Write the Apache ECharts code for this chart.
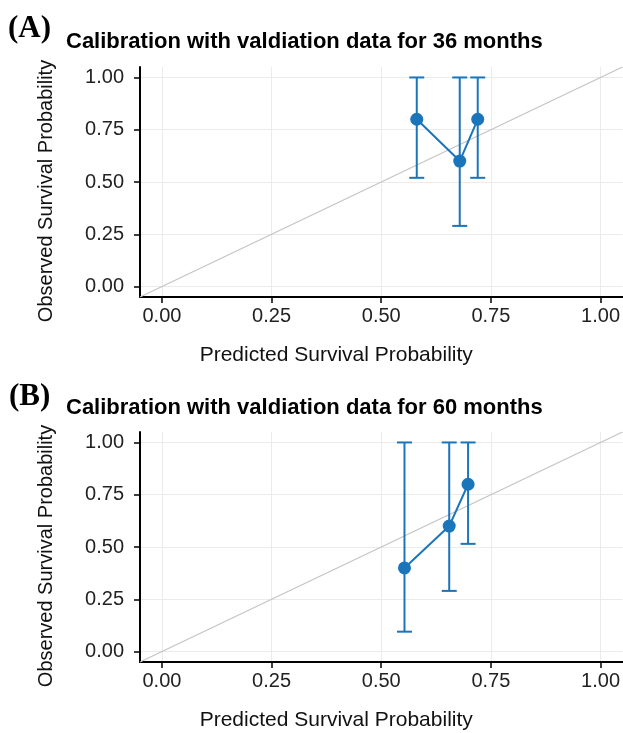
<!DOCTYPE html>
<html><head><meta charset="utf-8">
<script src="https://cdn.jsdelivr.net/npm/echarts@6/dist/echarts.min.js"></script>
<style>html,body{margin:0;padding:0;background:#fff}#c{width:623px;height:733px}</style>
</head><body><div id="c"></div>
<script>
// ---- data ----
const tickValues = [0, 0.25, 0.5, 0.75, 1];
const axisRange = [-0.05, 1.05];
const diagLine = [-0.05, 1.05];           // y = x reference line endpoints
const panelLabels = ['(A)', '(B)'];
const panelTitles = ['Calibration with valdiation data for 36 months', 'Calibration with valdiation data for 60 months'];
const xTitle = 'Predicted Survival Probability';
const yTitle = 'Observed Survival Probability';

const predA = [0.581, 0.679, 0.720];
const obsA  = [0.80, 0.60, 0.80];
const lowA  = [0.52, 0.29, 0.52];
const upA   = [1.00, 1.00, 1.00];

const predB = [0.553, 0.655, 0.698];
const obsB  = [0.40, 0.60, 0.80];
const lowB  = [0.095, 0.29, 0.515];
const upB   = [1.00, 1.00, 1.00];

// ---- styling ----
const BLUE = '#1b75bb';
const FONT = 'Liberation Sans, Arial, sans-serif';
const SERIF = 'Liberation Serif, Times New Roman, serif';
const grids = [
  {left: 140, top: 67, width: 483, height: 230},
  {left: 140, top: 432, width: 483, height: 230}
];

function xAxis(i) {
  return {
    type: 'value', gridIndex: i, min: axisRange[0], max: axisRange[1],
    name: xTitle, nameLocation: 'middle', nameGap: 48,
    nameTextStyle: {fontFamily: FONT, fontSize: 21, color: '#111', padding: [0, 90, 0, 0]},
    axisLine: {show: true, onZero: false, lineStyle: {color: '#000', width: 2}},
    axisTick: {show: true, length: 6, customValues: tickValues, lineStyle: {color: '#000', width: 1.5}},
    axisLabel: {customValues: tickValues, margin: 9, fontFamily: FONT, fontSize: 20, color: '#222',
                formatter: v => v.toFixed(2)},
    splitLine: {show: true, lineStyle: {color: '#EBEBEB', width: 1}}
  };
}
function yAxis(i) {
  return {
    type: 'value', gridIndex: i, min: axisRange[0], max: axisRange[1],
    name: yTitle, nameLocation: 'middle', nameGap: 84,
    nameTextStyle: {fontFamily: FONT, fontSize: 20, color: '#111', padding: [0, 18, 0, 0]},
    axisLine: {show: true, onZero: false, lineStyle: {color: '#000', width: 2}},
    axisTick: {show: true, length: 6, customValues: tickValues, lineStyle: {color: '#000', width: 1.5}},
    axisLabel: {customValues: tickValues, margin: 16, fontFamily: FONT, fontSize: 20, color: '#222',
                formatter: v => v.toFixed(2)},
    splitLine: {show: true, lineStyle: {color: '#EBEBEB', width: 1}}
  };
}

function errorSeries(i, pred, low, up) {
  return {
    type: 'custom', xAxisIndex: i, yAxisIndex: i, z: 3,
    data: pred.map((p, k) => [p, low[k], up[k]]),
    renderItem: function (params, api) {
      const x = api.value(0);
      const lo = api.coord([x, api.value(1)]);
      const hi = api.coord([x, api.value(2)]);
      const hw = 7.5;
      const style = {stroke: BLUE, lineWidth: 2, fill: null};
      return {type: 'group', children: [
        {type: 'line', shape: {x1: lo[0], y1: lo[1], x2: hi[0], y2: hi[1]}, style: style},
        {type: 'line', shape: {x1: lo[0] - hw, y1: lo[1], x2: lo[0] + hw, y2: lo[1]}, style: style},
        {type: 'line', shape: {x1: hi[0] - hw, y1: hi[1], x2: hi[0] + hw, y2: hi[1]}, style: style}
      ]};
    }
  };
}
function pointSeries(i, pred, obs) {
  return {
    type: 'line', xAxisIndex: i, yAxisIndex: i, z: 4,
    data: pred.map((p, k) => [p, obs[k]]),
    symbol: 'circle', symbolSize: 13,
    itemStyle: {color: BLUE},
    lineStyle: {color: BLUE, width: 2},
    animation: false
  };
}
function diagSeries(i) {
  return {
    type: 'line', xAxisIndex: i, yAxisIndex: i, z: 2,
    data: [[diagLine[0], diagLine[0]], [diagLine[1], diagLine[1]]],
    symbol: 'none', lineStyle: {color: '#C4C4C4', width: 1.2}, silent: true, animation: false
  };
}

const chart = echarts.init(document.getElementById('c'));
chart.setOption({
  animation: false,
  backgroundColor: '#fff',
  title: [
    {text: panelLabels[0], left: 8, top: 13, padding: 0, textStyle: {fontFamily: SERIF, fontWeight: 'bold', fontSize: 31, color: '#000'}},
    {text: panelTitles[0], left: 66, top: 31, padding: 0, textStyle: {fontFamily: FONT, fontWeight: 'bold', fontSize: 22, color: '#000'}},
    {text: panelLabels[1], left: 9, top: 381, padding: 0, textStyle: {fontFamily: SERIF, fontWeight: 'bold', fontSize: 31, color: '#000'}},
    {text: panelTitles[1], left: 66, top: 397, padding: 0, textStyle: {fontFamily: FONT, fontWeight: 'bold', fontSize: 22, color: '#000'}}
  ],
  grid: grids,
  xAxis: [xAxis(0), xAxis(1)],
  yAxis: [yAxis(0), yAxis(1)],
  series: [
    diagSeries(0), errorSeries(0, predA, lowA, upA), pointSeries(0, predA, obsA),
    diagSeries(1), errorSeries(1, predB, lowB, upB), pointSeries(1, predB, obsB)
  ]
});
</script></body></html>
